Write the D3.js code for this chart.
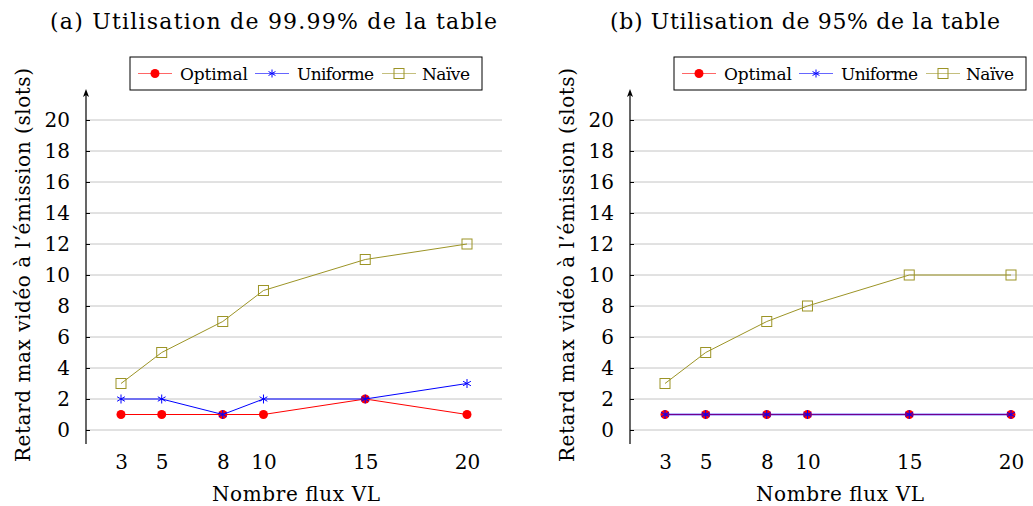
<!DOCTYPE html>
<html>
<head>
<meta charset="utf-8">
<script src="https://cdn.jsdelivr.net/npm/d3@7"></script>
<style>
  body { margin: 0; background: #fff; }
  text { font-family: "DejaVu Serif", serif; fill: #000; }
</style>
</head>
<body>
<div class="chart"></div>
<script>
// donnees
var fluxVL = [3, 5, 8, 10, 15, 20];
var yTicks = [0, 2, 4, 6, 8, 10, 12, 14, 16, 18, 20];

var optimalA = [1, 1, 1, 1, 2, 1];
var uniformeA = [2, 2, 1, 2, 2, 3];
var naiveA = [3, 5, 7, 9, 11, 12];

var optimalB = [1, 1, 1, 1, 1, 1];
var uniformeB = [1, 1, 1, 1, 1, 1];
var naiveB = [3, 5, 7, 8, 10, 10];

var titles = ["(a) Utilisation de 99.99% de la table", "(b) Utilisation de 95% de la table"];
var seriesNames = ["Optimal", "Uniforme", "Naïve"];

var width = 1033, height = 506;
var svg = d3.select(".chart").append("svg").attr("width", width).attr("height", height);

var red = "#ff0000", blue = "#0000ff", olive = "#9c9426";

// asterisque a 6 branches
function starPath(r) {
    var p = "";
    for (var k = 0; k < 3; k++) {
        var a = Math.PI / 2 + k * Math.PI / 3;
        p += "M" + (r * Math.cos(a)) + "," + (-r * Math.sin(a)) + "L" + (-r * Math.cos(a)) + "," + (r * Math.sin(a));
    }
    return p;
}

function drawPanel(dx, title, titleX, titleLen, opt, uni, nai, blend) {
    var g = svg.append("g").attr("transform", "translate(" + dx + ",0)");

    var x = d3.scaleLinear().domain([3, 20]).range([121, 467]);
    var y = d3.scaleLinear().domain([0, 20]).range([430, 120]);
    var axisX = 86;

    // grille
    g.selectAll(".grid").data(yTicks).enter().append("line")
        .attr("x1", axisX).attr("x2", 502)
        .attr("y1", function (d) { return y(d); }).attr("y2", function (d) { return y(d); })
        .attr("stroke", "#c4c4c4").attr("stroke-width", 1);

    // axe y avec fleche
    var ya = g.append("g").attr("transform", "translate(" + axisX + ",0)")
        .call(d3.axisLeft(y).tickValues(yTicks).tickSize(4).tickPadding(12));
    ya.select(".domain").remove();
    ya.selectAll(".tick line").attr("x2", 4).attr("stroke", "#000");
    ya.selectAll(".tick text").style("font-size", "20px").attr("fill", "#000");
    g.append("line").attr("x1", axisX).attr("x2", axisX).attr("y1", 444).attr("y2", 93)
        .attr("stroke", "#000").attr("stroke-width", 1.2);
    g.append("path").attr("d", "M" + (axisX - 3) + ",97 L" + axisX + ",89 L" + (axisX + 3) + ",97 L" + axisX + ",95 Z")
        .attr("fill", "#000");

    // axe x (labels seulement)
    var xa = g.append("g").attr("transform", "translate(0,447)")
        .call(d3.axisBottom(x).tickValues(fluxVL).tickSize(0).tickPadding(8).tickFormat(d3.format("d")));
    xa.select(".domain").remove();
    xa.selectAll(".tick text").style("font-size", "20px").attr("fill", "#000");

    g.append("text").attr("x", 296).attr("y", 501).attr("text-anchor", "middle")
        .style("font-size", "20px").attr("textLength", 168).attr("lengthAdjust", "spacing")
        .text("Nombre flux VL");
    g.append("text").attr("transform", "translate(30,265) rotate(-90)").attr("text-anchor", "middle")
        .style("font-size", "20px").attr("textLength", 394).attr("lengthAdjust", "spacing")
        .text("Retard max vidéo à l’émission (slots)");
    g.append("text").attr("x", titleX).attr("y", 29).attr("text-anchor", "middle")
        .style("font-size", "22px").attr("textLength", titleLen).attr("lengthAdjust", "spacing")
        .text(title);

    var line = d3.line().x(function (d, i) { return x(fluxVL[i]); }).y(function (d) { return y(d); });

    // Naive
    g.append("path").datum(nai).attr("d", line).attr("fill", "none").attr("stroke", olive).attr("stroke-width", 1);
    g.selectAll(".sq").data(nai).enter().append("rect")
        .attr("x", function (d, i) { return x(fluxVL[i]) - 5; })
        .attr("y", function (d) { return y(d) - 5; })
        .attr("width", 10).attr("height", 10)
        .attr("fill", "none").attr("stroke", olive).attr("stroke-width", 1);

    // Optimal
    g.append("path").datum(opt).attr("d", line).attr("fill", "none").attr("stroke", red).attr("stroke-width", 1);
    g.selectAll(".dot").data(opt).enter().append("circle")
        .attr("cx", function (d, i) { return x(fluxVL[i]); })
        .attr("cy", function (d) { return y(d); })
        .attr("r", 4.5).attr("fill", red);

    // Uniforme
    g.append("path").datum(uni).attr("d", line).attr("fill", "none").attr("stroke", blue)
        .attr("stroke-width", blend ? 2 : 1).attr("stroke-opacity", blend ? 0.55 : 1);
    g.selectAll(".star").data(uni).enter().append("path")
        .attr("d", starPath(4.5))
        .attr("transform", function (d, i) { return "translate(" + x(fluxVL[i]) + "," + y(d) + ")"; })
        .attr("fill", "none").attr("stroke", blue).attr("stroke-width", 1);

    // legende
    var lg = g.append("g");
    lg.append("rect").attr("x", 130).attr("y", 57).attr("width", 352).attr("height", 33)
        .attr("fill", "#fff").attr("stroke", "#000").attr("stroke-width", 1);
    var items = [
        {name: seriesNames[0], color: red, x0: 138, tx: 180, len: 68},
        {name: seriesNames[1], color: blue, x0: 255, tx: 297, len: 77},
        {name: seriesNames[2], color: olive, x0: 382, tx: 422, len: 48}
    ];
    items.forEach(function (it, k) {
        var cy = 73.5;
        lg.append("line").attr("x1", it.x0).attr("x2", it.x0 + 34).attr("y1", cy).attr("y2", cy)
            .attr("stroke", it.color).attr("stroke-opacity", 0.6).attr("stroke-width", 1.2);
        var cx = it.x0 + 17;
        if (k == 0) {
            lg.append("circle").attr("cx", cx).attr("cy", cy).attr("r", 4.5).attr("fill", red);
        } else if (k == 1) {
            lg.append("path").attr("d", starPath(4)).attr("transform", "translate(" + cx + "," + cy + ")")
                .attr("fill", "none").attr("stroke", blue);
        } else {
            lg.append("rect").attr("x", cx - 5).attr("y", cy - 5).attr("width", 10).attr("height", 10)
                .attr("fill", "none").attr("stroke", olive);
        }
        lg.append("text").attr("x", it.tx).attr("y", cy + 6).style("font-size", "17px")
            .attr("textLength", it.len).attr("lengthAdjust", "spacing").text(it.name);
    });
}

drawPanel(0, titles[0], 273.5, 447, optimalA, uniformeA, naiveA, false);
drawPanel(544, titles[1], 261, 390, optimalB, uniformeB, naiveB, true);
</script>
</body>
</html>
